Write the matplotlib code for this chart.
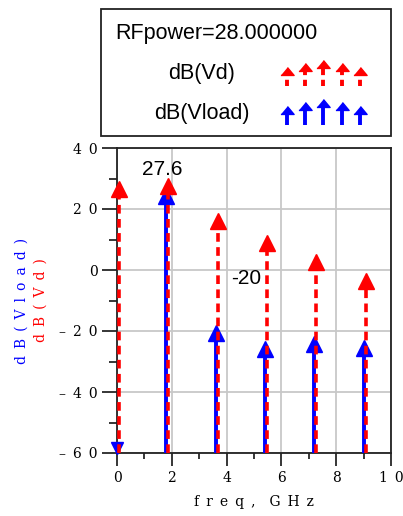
import numpy as np
import matplotlib
matplotlib.use("Agg")
from matplotlib import pyplot as plt
from matplotlib.patches import Rectangle
import matplotlib.transforms as mtransforms

# harmonic spectrum, RFpower = 28
freq = [0.0, 1.8, 3.6, 5.4, 7.2, 9.0]
vd_db = [26.5, 27.6, 16.2, 9.0, 2.6, -3.6]
vload_db = [-200.0, 24.4, -20.5, -25.8, -24.1, -25.6]

yticks = [-60, -40, -20, 0, 20, 40]
xticks = [0, 2, 4, 6, 8, 10]

ymin, ymax = -60, 40
serif = "DejaVu Serif"
sans = "Liberation Sans"
SP = "\u2002"  # en space, the original spaces its letters out


def spaced(s):
    return SP.join(s)


fig = plt.figure(figsize=(4.03, 5.16), dpi=100)
ax = fig.add_axes([117 / 403, 1 - 453 / 516, 274 / 403, 305 / 516])
ax.set_xlim(0, 10)
ax.set_ylim(ymin, ymax)

ax.set_xticks(xticks)
ax.set_xticklabels([spaced(str(t)) for t in xticks], family=serif, fontsize=10)
ax.set_yticks(yticks)
ax.set_yticklabels([spaced(str(t).replace("-", "–")) for t in yticks],
                   family=serif, fontsize=10)
ax.set_xticks(np.arange(1, 10, 2), minor=True)
ax.set_yticks(np.arange(-50, 40, 20), minor=True)
ax.tick_params(axis="y", which="major", direction="out", length=10.5,
               width=1.1, pad=3.5)
ax.tick_params(axis="x", which="major", direction="out", length=9,
               width=1.1, pad=4)
ax.tick_params(axis="y", which="minor", direction="out", length=6, width=1.1)
ax.tick_params(axis="x", which="minor", direction="out", length=4.5,
               width=1.1)
ax.grid(True, which="major", color="#c8c8c8", lw=1.3, zorder=0)
for s in ax.spines.values():
    s.set_linewidth(1.3)
    s.set_color("#222222")

# red dashed stems slightly shifted right, like the original overlay
shift = mtransforms.ScaledTranslation(2 / 100, 0, fig.dpi_scale_trans)
red_tr = ax.transData + shift

for f, v in zip(freq, vload_db):
    if v >= ymin:
        ax.plot([f, f], [ymin, v], color="#0000ff", lw=2.8, zorder=3,
                clip_on=False, solid_capstyle="butt")
        ax.plot([f], [v], marker="^", ms=11, color="#0000ff", zorder=4,
                clip_on=False)
    else:
        ax.plot([f], [ymin + 1.5], marker="v", ms=8, color="#0000ff",
                zorder=4, clip_on=False)

for f, v in zip(freq, vd_db):
    ln, = ax.plot([f, f], [ymin, v], color="#ff0000", lw=2.6, zorder=5,
                  clip_on=False, transform=red_tr)
    ln.set_dashes((2.4, 1.5))
    ax.plot([f], [v], marker="^", ms=11, color="#ff0000", zorder=6,
            clip_on=False, transform=red_tr)

ax.annotate("27.6", (freq[1], vd_db[1]), xytext=(-3, 5),
            textcoords="offset points", ha="center", va="bottom",
            family=sans, fontsize=15)
ax.annotate("-20", (freq[2], vload_db[2]), xytext=(22, 39),
            textcoords="offset points", ha="center", va="center",
            family=sans, fontsize=15)

ax.set_xlabel(spaced("freq,") + SP * 2 + spaced("GHz"), family=serif,
              fontsize=10, labelpad=7)
fig.text(22 / 403, 1 - 301 / 516, spaced("dB(Vload)"), rotation=90,
         color="#0000ff", family=serif, fontsize=10, ha="center",
         va="center")
fig.text(41 / 403, 1 - 300 / 516, spaced("dB(Vd)"), rotation=90,
         color="#ff0000", family=serif, fontsize=10, ha="center",
         va="center")

# legend box drawn in pixel space
lg = fig.add_axes([0, 0, 1, 1], zorder=-1)
lg.set_xlim(0, 403)
lg.set_ylim(516, 0)
lg.axis("off")
lg.add_patch(Rectangle((101, 9), 290, 127, fill=False, lw=1.3,
                       ec="#222222"))
lg.text(115, 34, "RFpower=28.000000", family=sans, fontsize=15.5,
        va="center", ha="left")
lg.text(202, 74, "dB(Vd)", family=sans, fontsize=15.5, va="center",
        ha="center")
lg.text(202, 114, "dB(Vload)", family=sans, fontsize=15.5, va="center",
        ha="center")

head = [(-1, -0.6), (1, -0.6), (0, 0.6)]  # markers are drawn in screen space
icon_x = [287, 305, 323, 342, 360]
icon_h = [19, 23, 26, 23, 19]
for x, h in zip(icon_x, icon_h):
    for base, col, dashed in [(86, "#ff0000", True), (125, "#0000ff", False)]:
        tip = base - h
        ln, = lg.plot([x, x], [base, tip + 6], color=col, lw=2.8,
                      solid_capstyle="butt")
        if dashed:
            ln.set_dashes((1.6, 1.2))
        lg.plot([x], [tip + 4], marker=head, ms=9.5, color=col)

fig.savefig("out.png", dpi=100)
